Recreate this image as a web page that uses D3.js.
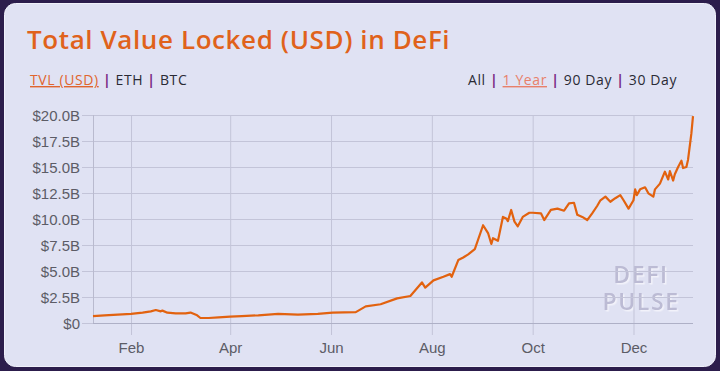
<!DOCTYPE html>
<html lang="en">
<head>
<meta charset="utf-8">
<title>DeFi TVL</title>
<script src="https://cdn.jsdelivr.net/npm/d3@7"></script>
<style>
  html, body { margin: 0; padding: 0; background: #2c1d4c; }
  svg { display: block; }
  .axis text { font-family: "Liberation Sans", Arial, sans-serif; font-size: 15px; fill: #5c5c66; }
  .link { font-family: "Open Sans", sans-serif; font-size: 14px; letter-spacing: 0.6px; }
</style>
</head>
<body>
<div id="chart"></div>
<script>
// TVL in billions USD
var dates = [
  "2020-01-09","2020-01-16","2020-01-24","2020-02-01","2020-02-08","2020-02-13","2020-02-16","2020-02-19",
  "2020-02-20","2020-02-23","2020-02-28","2020-03-05","2020-03-08","2020-03-12","2020-03-14","2020-03-19",
  "2020-03-25","2020-04-01","2020-04-08","2020-04-18","2020-04-30","2020-05-12","2020-05-24","2020-06-02",
  "2020-06-16","2020-06-22","2020-07-01","2020-07-11","2020-07-19","2020-07-26","2020-07-28","2020-08-02",
  "2020-08-08","2020-08-12","2020-08-13","2020-08-17","2020-08-20","2020-08-23","2020-08-27","2020-09-01",
  "2020-09-04","2020-09-06","2020-09-07","2020-09-10","2020-09-13","2020-09-15","2020-09-16","2020-09-18",
  "2020-09-20","2020-09-22","2020-09-25","2020-09-29","2020-10-01","2020-10-06","2020-10-08","2020-10-12",
  "2020-10-16","2020-10-20","2020-10-23","2020-10-26","2020-10-28","2020-10-31","2020-11-03","2020-11-06",
  "2020-11-09","2020-11-11","2020-11-14","2020-11-17","2020-11-20","2020-11-23","2020-11-25","2020-11-28",
  "2020-12-01","2020-12-02","2020-12-03","2020-12-05","2020-12-08","2020-12-10","2020-12-13","2020-12-14",
  "2020-12-17","2020-12-20","2020-12-22","2020-12-23","2020-12-25","2020-12-26","2020-12-28","2020-12-30",
  "2020-12-31","2021-01-02","2021-01-03","2021-01-05","2021-01-06"
];
var tvl = [
  0.67,0.74,0.80,0.87,0.99,1.12,1.25,1.12,
  1.19,0.99,0.93,0.93,1.00,0.74,0.48,0.48,
  0.55,0.61,0.67,0.74,0.87,0.80,0.87,0.99,
  1.05,1.60,1.80,2.37,2.60,3.90,3.40,4.10,
  4.45,4.70,4.45,6.05,6.30,6.60,7.10,9.40,
  8.65,7.60,8.15,7.90,10.20,10.05,9.80,10.87,
  9.75,9.30,10.20,10.60,10.60,10.55,9.90,10.87,
  11.00,10.80,11.50,11.56,10.40,10.20,9.90,10.55,
  11.25,11.80,12.15,11.66,12.00,12.30,11.80,11.00,
  11.80,12.85,12.30,12.85,13.05,12.47,12.15,12.85,
  13.40,14.55,13.80,14.60,13.70,14.30,15.00,15.60,
  14.90,15.00,15.70,18.20,19.90
];
var yTicks = [0, 2.5, 5, 7.5, 10, 12.5, 15, 17.5, 20];
var xTicks = ["2020-02-01","2020-04-01","2020-06-01","2020-08-01","2020-10-01","2020-12-01"];
var metricLinks = ["TVL (USD)", "ETH", "BTC"];
var rangeLinks = ["All", "1 Year", "90 Day", "30 Day"];

var W = 720, H = 371;
var margin = {top: 115, right: 27, bottom: 48, left: 93};
var width = W - margin.left - margin.right,
    height = H - margin.top - margin.bottom;

var parse = d3.timeParse("%Y-%m-%d");
var data = dates.map(function(d, i) { return {date: parse(d), value: tvl[i]}; });

var svg = d3.select("#chart").append("svg")
  .attr("width", W).attr("height", H);

var defs = svg.append("defs");
defs.append("filter").attr("id", "wmShadow")
  .append("feDropShadow")
  .attr("dx", 1.5).attr("dy", 1.5).attr("stdDeviation", 0.6)
  .attr("flood-color", "#f4f4fb").attr("flood-opacity", 0.9);

// card
svg.append("rect")
  .attr("x", 4.5).attr("y", 3.5)
  .attr("width", 711).attr("height", 363)
  .attr("rx", 11).attr("ry", 11)
  .attr("fill", "#e0e2f3")
  .attr("stroke", "#f0f1fa").attr("stroke-width", 1);

// title
svg.append("text")
  .attr("x", 27).attr("y", 49)
  .text("Total Value Locked (USD) in DeFi")
  .style("font-family", "'Open Sans', sans-serif")
  .style("font-size", "26px")
  .style("letter-spacing", "0.6px")
  .style("font-weight", 600)
  .style("fill", "#e0621b");

// link rows
function linkRow(items, x, active, anchorEnd) {
  var t = svg.append("text").attr("class", "link").attr("y", 85);
  items.forEach(function(s, i) {
    if (i > 0) t.append("tspan").text(" | ").style("fill", "#7b2a86").style("font-weight", 700);
    t.append("tspan").text(s)
      .style("fill", s == active ? (i == 0 ? "#e0652e" : "#e8806a") : "#2a2a35")
      .style("text-decoration", s == active ? "underline" : null);
  });
  t.attr("x", x).attr("text-anchor", anchorEnd ? "end" : "start");
}
linkRow(metricLinks, 30, "TVL (USD)", false);
linkRow(rangeLinks, 677, "1 Year", true);

var g = svg.append("g")
  .attr("transform", "translate(" + margin.left + "," + margin.top + ")");

var x = d3.scaleTime()
  .domain(d3.extent(data, function(d) { return d.date; }))
  .range([0, width]);
var y = d3.scaleLinear().domain([0, 20]).range([height, 0]);

// watermark (one text block, two lines)
var wm = g.append("text").attr("text-anchor", "middle")
  .attr("filter", "url(#wmShadow)")
  .style("font-family", "'Open Sans', sans-serif")
  .style("font-weight", 600)
  .style("font-size", "23px")
  .style("letter-spacing", "1.6px")
  .style("fill", "#bcbbd4");
wm.append("tspan").attr("x", 548).attr("y", 168).text("DEFI");
wm.append("tspan").attr("x", 548).attr("y", 195).text("PULSE");

// y grid + labels
var yAxis = g.append("g").attr("class", "axis")
  .call(d3.axisLeft(y).tickValues(yTicks).tickSize(-width - 11)
    .tickFormat(function(d) { return d == 0 ? "$0" : "$" + d.toFixed(1) + "B"; }));
yAxis.select(".domain").remove();
yAxis.selectAll(".tick line").attr("x1", -11).attr("x2", width).attr("stroke", "#c3c4d8");
yAxis.selectAll(".tick text").attr("x", -13).attr("dy", "0.36em");

// x grid + labels
var xAxis = g.append("g").attr("class", "axis")
  .attr("transform", "translate(0," + height + ")")
  .call(d3.axisBottom(x).tickValues(xTicks.map(parse)).tickSize(12)
    .tickFormat(d3.timeFormat("%b")));
xAxis.select(".domain").remove();
xAxis.selectAll(".tick line").attr("y1", -height).attr("y2", 12).attr("stroke", "#c3c4d8");
xAxis.selectAll(".tick text").attr("y", 19);

// left edge and baseline
g.append("line").attr("x1", 0.5).attr("x2", 0.5).attr("y1", 0).attr("y2", height)
  .attr("stroke", "#b9bace");
g.append("line").attr("x1", 0).attr("x2", width).attr("y1", height + 0.5).attr("y2", height + 0.5)
  .attr("stroke", "#aeb0c6");

// line
g.append("path")
  .datum(data)
  .attr("fill", "none")
  .attr("stroke", "#e2620f")
  .attr("stroke-width", 2.2)
  .attr("stroke-linejoin", "round")
  .attr("d", d3.line()
    .x(function(d) { return x(d.date); })
    .y(function(d) { return y(d.value); }));
</script>
</body>
</html>
